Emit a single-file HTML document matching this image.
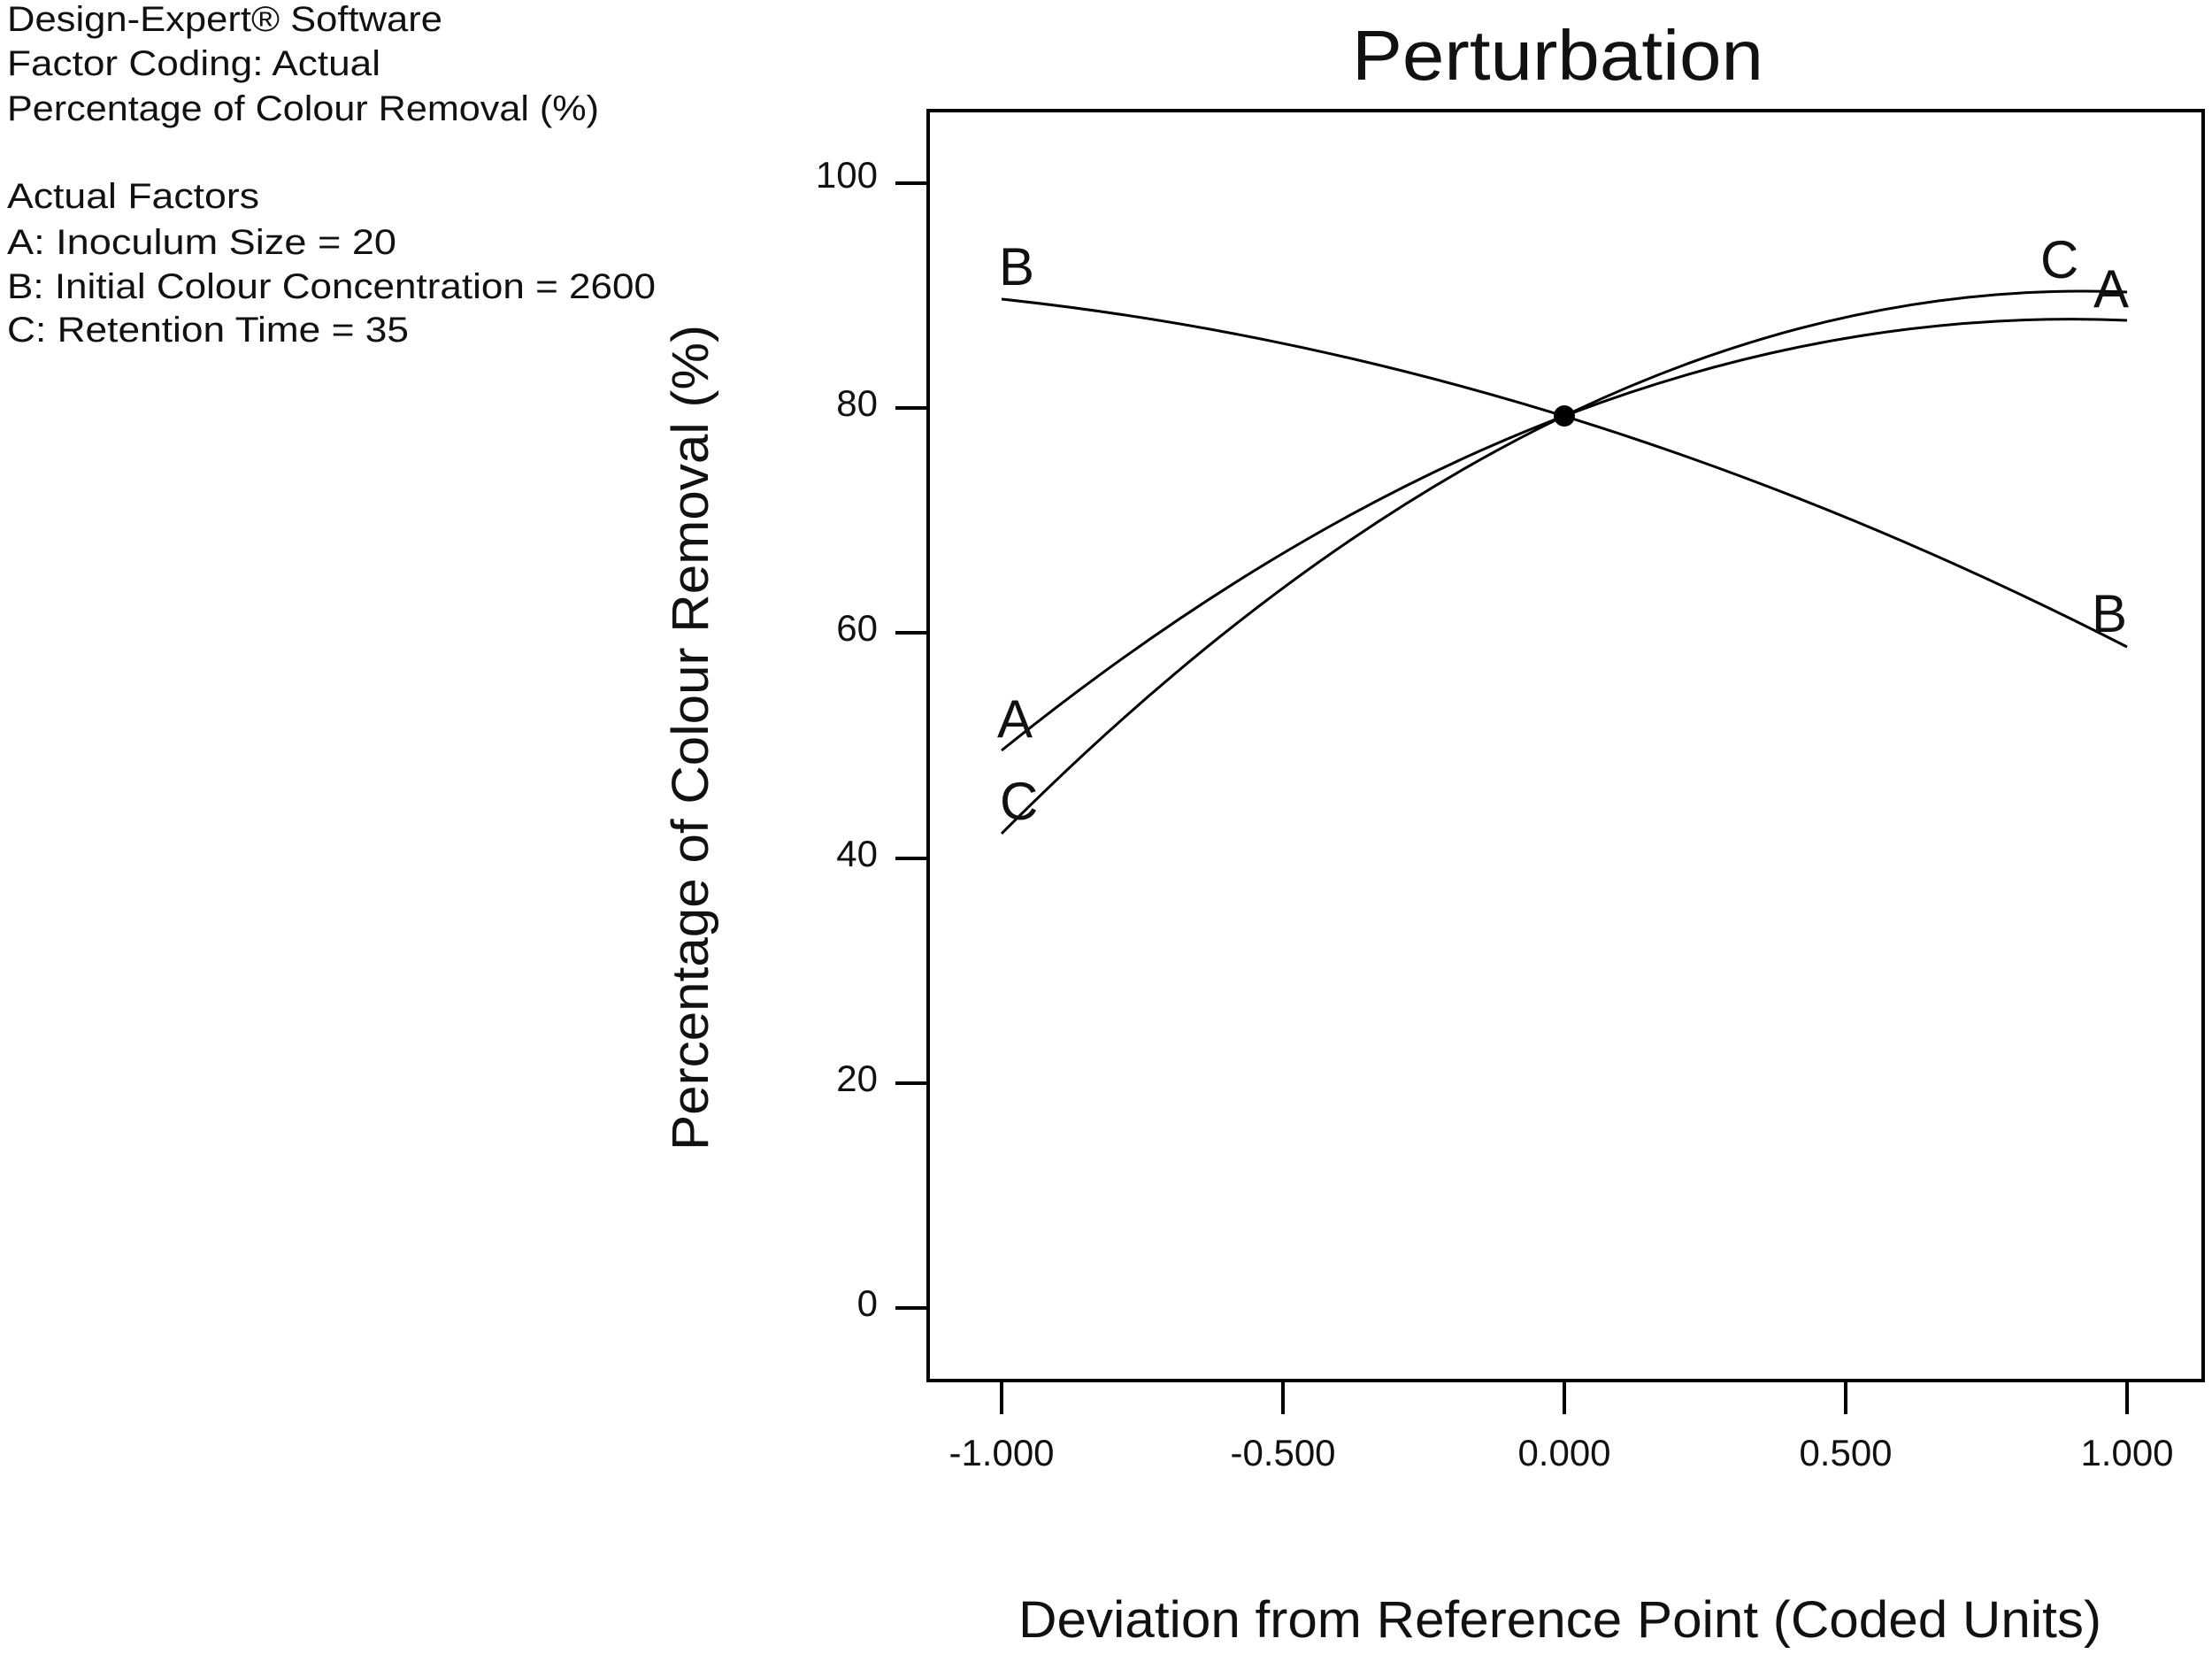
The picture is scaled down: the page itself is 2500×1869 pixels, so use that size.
<!DOCTYPE html>
<html><head><meta charset="utf-8"><style>
html,body{margin:0;padding:0;background:#fff;}
svg{display:block;}
text{font-family:"Liberation Sans",Arial,sans-serif;fill:#111;}
</style></head><body>
<svg width="2500" height="1869" viewBox="0 0 2500 1869" xmlns="http://www.w3.org/2000/svg">
<g font-size="40" lengthAdjust="spacingAndGlyphs">
<text x="8" y="35" textLength="492" lengthAdjust="spacingAndGlyphs">Design-Expert® Software</text>
<text x="8" y="85" textLength="422" lengthAdjust="spacingAndGlyphs">Factor Coding: Actual</text>
<text x="8" y="136" textLength="669" lengthAdjust="spacingAndGlyphs">Percentage of Colour Removal (%)</text>
<text x="8" y="235" textLength="285" lengthAdjust="spacingAndGlyphs">Actual Factors</text>
<text x="8" y="287" textLength="440" lengthAdjust="spacingAndGlyphs">A: Inoculum Size = 20</text>
<text x="8" y="337" textLength="733" lengthAdjust="spacingAndGlyphs">B: Initial Colour Concentration = 2600</text>
<text x="8" y="386" textLength="454" lengthAdjust="spacingAndGlyphs">C: Retention Time = 35</text>
</g>
<text x="1528" y="90" font-size="80" textLength="465" lengthAdjust="spacingAndGlyphs">Perturbation</text>
<rect x="1049" y="125" width="1441" height="1435" fill="none" stroke="#000" stroke-width="4"/>
<g stroke="#000" stroke-width="4">
<line x1="1012" y1="207" x2="1049" y2="207"/>
<line x1="1012" y1="461" x2="1049" y2="461"/>
<line x1="1012" y1="715" x2="1049" y2="715"/>
<line x1="1012" y1="970" x2="1049" y2="970"/>
<line x1="1012" y1="1224" x2="1049" y2="1224"/>
<line x1="1012" y1="1478" x2="1049" y2="1478"/>
<line x1="1132" y1="1560" x2="1132" y2="1598"/>
<line x1="1450" y1="1560" x2="1450" y2="1598"/>
<line x1="1768" y1="1560" x2="1768" y2="1598"/>
<line x1="2086" y1="1560" x2="2086" y2="1598"/>
<line x1="2404" y1="1560" x2="2404" y2="1598"/>
</g>
<g font-size="42" text-anchor="end">
<text x="992" y="212">100</text>
<text x="992" y="470">80</text>
<text x="992" y="724">60</text>
<text x="992" y="979">40</text>
<text x="992" y="1233">20</text>
<text x="992" y="1487">0</text>
</g>
<g font-size="42" text-anchor="middle">
<text x="1132" y="1656">-1.000</text>
<text x="1450" y="1656">-0.500</text>
<text x="1768" y="1656">0.000</text>
<text x="2086" y="1656">0.500</text>
<text x="2404" y="1656">1.000</text>
</g>
<text x="1151" y="1850" font-size="58" textLength="1224" lengthAdjust="spacingAndGlyphs">Deviation from Reference Point (Coded Units)</text>
<text transform="translate(800,1300) rotate(-90)" font-size="58" textLength="933" lengthAdjust="spacingAndGlyphs">Percentage of Colour Removal (%)</text>
<g fill="none" stroke="#000" stroke-width="3">
<path d="M1132,338 Q1768,406 2404,731"/>
<path d="M1132,848 Q1768,335 2404,362"/>
<path d="M1132,942 Q1768,304 2404,330"/>
</g>
<circle cx="1768" cy="470" r="12" fill="#000"/>
<g font-size="60">
<text x="1129" y="322">B</text>
<text x="2364" y="714">B</text>
<text x="1127" y="833">A</text>
<text x="1130" y="926">C</text>
<text x="2306" y="314">C</text>
<text x="2366" y="347">A</text>
</g>
</svg>
</body></html>
